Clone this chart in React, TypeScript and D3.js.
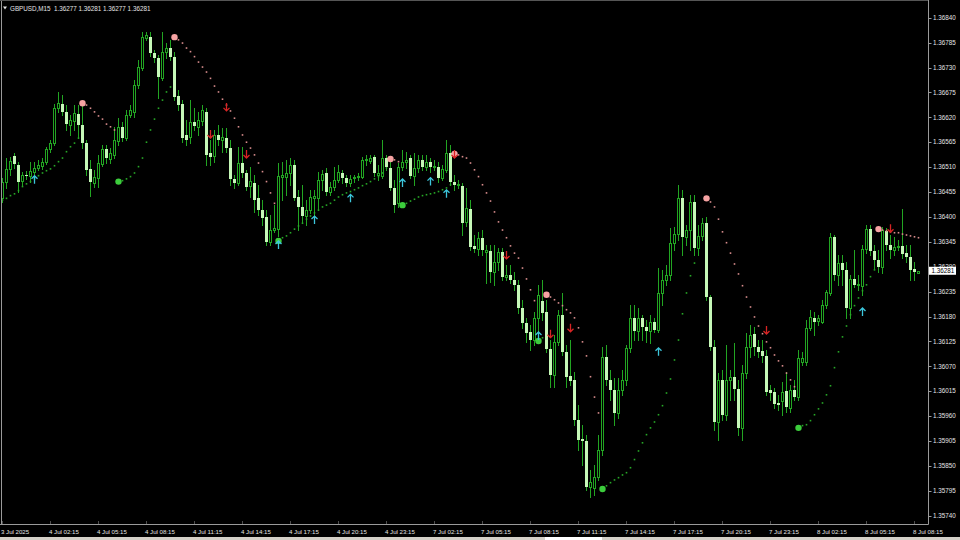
import React from "react";
import * as d3 from "d3";

const W = 960;
const H = 540;

const symbolTitle = "GBPUSD,M15";
const headerPrices = ["1.36277", "1.36281", "1.36277", "1.36281"];
const lastPrice = 1.36281;

const timeLabels = [
  "3 Jul 2025", "4 Jul 02:15", "4 Jul 05:15", "4 Jul 08:15", "4 Jul 11:15",
  "4 Jul 14:15", "4 Jul 17:15", "4 Jul 20:15", "4 Jul 23:15", "7 Jul 02:15",
  "7 Jul 05:15", "7 Jul 08:15", "7 Jul 11:15", "7 Jul 14:15", "7 Jul 17:15",
  "7 Jul 20:15", "7 Jul 23:15", "8 Jul 02:15", "8 Jul 05:15", "8 Jul 08:15",
];
const barsPerLabel = 12;

const priceTicks = [
  1.3684, 1.36785, 1.3673, 1.36675, 1.3662, 1.36565, 1.3651, 1.36455, 1.364,
  1.36345, 1.3629, 1.36235, 1.3618, 1.36125, 1.3607, 1.36015, 1.3596, 1.35905,
  1.3585, 1.35795, 1.3574,
];

const openP = [
  1.36441,1.36478,1.36506,1.36535,1.36515,1.36480,1.36493,1.36491,1.36500,1.36508,
  1.36513,1.36522,1.36550,1.36563,1.36640,1.36649,1.36632,1.36603,1.36612,1.36627,
  1.36603,1.36563,1.36506,1.36475,1.36486,1.36517,1.36550,1.36528,1.36537,1.36568,
  1.36599,1.36574,1.36625,1.36632,1.36691,1.36729,1.36795,1.36797,1.36762,1.36751,
  1.36706,1.36765,1.36773,1.36754,1.36667,1.36649,1.36581,1.36577,1.36610,1.36599,
  1.36612,1.36632,1.36541,1.36535,1.36581,1.36570,1.36574,1.36552,1.36484,1.36475,
  1.36519,1.36497,1.36469,1.36475,1.36441,1.36415,1.36400,1.36345,1.36371,1.36373,
  1.36489,1.36489,1.36497,1.36515,1.36444,1.36422,1.36402,1.36415,1.36441,1.36441,
  1.36482,1.36497,1.36456,1.36467,1.36482,1.36497,1.36486,1.36475,1.36486,1.36489,
  1.36489,1.36526,1.36524,1.36533,1.36493,1.36491,1.36530,1.36508,1.36464,1.36430,
  1.36511,1.36522,1.36530,1.36491,1.36508,1.36526,1.36511,1.36522,1.36511,1.36511,
  1.36486,1.36504,1.36541,1.36478,1.36471,1.36469,1.36389,1.36417,1.36336,1.36329,
  1.36354,1.36323,1.36325,1.36279,1.36301,1.36323,1.36268,1.36272,1.36261,1.36250,
  1.36199,1.36166,1.36146,1.36128,1.36177,1.36215,1.36190,1.36108,1.36051,1.36124,
  1.36184,1.36102,1.36049,1.36040,1.35952,1.35910,1.35904,1.35804,1.35802,1.35826,
  1.35886,1.36091,1.36040,1.36018,1.35967,1.36018,1.36040,1.36111,1.36177,1.36148,
  1.36177,1.36157,1.36148,1.36168,1.36150,1.36232,1.36261,1.36272,1.36343,1.36362,
  1.36441,1.36356,1.36371,1.36433,1.36332,1.36358,1.36386,1.36223,1.36113,1.35947,
  1.36040,1.35963,1.36040,1.36047,1.36020,1.35934,1.36055,1.36113,1.36141,1.36113,
  1.36104,1.36093,1.36018,1.36013,1.35989,1.35994,1.36016,1.35978,1.36018,1.36002,
  1.36080,1.36080,1.36155,1.36177,1.36170,1.36168,1.36206,1.36232,1.36356,1.36272,
  1.36298,1.36283,1.36199,1.36263,1.36250,1.36248,1.36329,1.36373,1.36325,1.36305,
  1.36290,1.36369,1.36338,1.36327,1.36334,1.36336,1.36320,1.36312,1.36285,1.36277,
];

const highP = [
  1.36486,1.36530,1.36533,1.36541,1.36522,1.36500,1.36502,1.36522,1.36522,1.36526,
  1.36530,1.36555,1.36570,1.36649,1.36676,1.36669,1.36647,1.36625,1.36647,1.36647,
  1.36645,1.36570,1.36526,1.36504,1.36537,1.36559,1.36559,1.36552,1.36599,1.36618,
  1.36610,1.36636,1.36647,1.36702,1.36747,1.36808,1.36808,1.36808,1.36769,1.36758,
  1.36808,1.36784,1.36791,1.36765,1.36680,1.36658,1.36614,1.36658,1.36640,1.36632,
  1.36647,1.36640,1.36570,1.36592,1.36603,1.36596,1.36596,1.36570,1.36493,1.36555,
  1.36555,1.36504,1.36511,1.36493,1.36471,1.36437,1.36415,1.36404,1.36426,1.36519,
  1.36522,1.36526,1.36530,1.36526,1.36460,1.36471,1.36437,1.36460,1.36460,1.36500,
  1.36504,1.36508,1.36478,1.36511,1.36515,1.36504,1.36493,1.36493,1.36493,1.36497,
  1.36533,1.36537,1.36537,1.36537,1.36515,1.36570,1.36537,1.36526,1.36482,1.36519,
  1.36548,1.36544,1.36537,1.36541,1.36537,1.36537,1.36537,1.36530,1.36526,1.36522,
  1.36515,1.36570,1.36559,1.36493,1.36482,1.36475,1.36464,1.36437,1.36360,1.36367,
  1.36371,1.36338,1.36338,1.36338,1.36332,1.36332,1.36294,1.36294,1.36279,1.36261,
  1.36217,1.36177,1.36161,1.36190,1.36250,1.36261,1.36217,1.36128,1.36139,1.36195,
  1.36232,1.36117,1.36128,1.36058,1.35985,1.35941,1.35919,1.35841,1.35853,1.35919,
  1.36113,1.36117,1.36062,1.36044,1.36044,1.36062,1.36117,1.36206,1.36206,1.36199,
  1.36184,1.36173,1.36184,1.36177,1.36287,1.36283,1.36294,1.36375,1.36378,1.36471,
  1.36460,1.36382,1.36449,1.36449,1.36382,1.36397,1.36400,1.36228,1.36128,1.36055,
  1.36062,1.36117,1.36062,1.36122,1.36040,1.36073,1.36144,1.36161,1.36157,1.36128,
  1.36128,1.36106,1.36029,1.36022,1.36007,1.36036,1.36058,1.36029,1.36040,1.36106,
  1.36102,1.36173,1.36195,1.36190,1.36184,1.36217,1.36239,1.36365,1.36360,1.36316,
  1.36316,1.36301,1.36272,1.36327,1.36272,1.36338,1.36382,1.36382,1.36338,1.36327,
  1.36378,1.36375,1.36360,1.36356,1.36349,1.36418,1.36338,1.36338,1.36301,1.36281,
];

const lowP = [
  1.36433,1.36464,1.36493,1.36508,1.36456,1.36471,1.36484,1.36478,1.36495,1.36504,
  1.36506,1.36517,1.36544,1.36559,1.36632,1.36625,1.36592,1.36581,1.36592,1.36574,
  1.36552,1.36493,1.36447,1.36467,1.36467,1.36513,1.36519,1.36519,1.36530,1.36559,
  1.36568,1.36570,1.36621,1.36621,1.36684,1.36724,1.36791,1.36756,1.36742,1.36662,
  1.36702,1.36751,1.36747,1.36658,1.36636,1.36565,1.36559,1.36563,1.36592,1.36581,
  1.36603,1.36515,1.36515,1.36522,1.36559,1.36544,1.36544,1.36471,1.36464,1.36471,
  1.36489,1.36460,1.36444,1.36411,1.36404,1.36382,1.36338,1.36338,1.36367,1.36358,
  1.36437,1.36449,1.36471,1.36437,1.36371,1.36389,1.36382,1.36409,1.36404,1.36415,
  1.36460,1.36449,1.36449,1.36460,1.36478,1.36475,1.36469,1.36469,1.36478,1.36482,
  1.36486,1.36515,1.36519,1.36491,1.36482,1.36486,1.36504,1.36460,1.36411,1.36422,
  1.36504,1.36508,1.36486,1.36471,1.36500,1.36504,1.36504,1.36500,1.36504,1.36478,
  1.36482,1.36500,1.36471,1.36460,1.36464,1.36360,1.36380,1.36327,1.36323,1.36316,
  1.36316,1.36254,1.36257,1.36250,1.36283,1.36261,1.36261,1.36254,1.36239,1.36188,
  1.36155,1.36124,1.36106,1.36117,1.36128,1.36173,1.36102,1.36025,1.36025,1.36117,
  1.36095,1.36025,1.36029,1.35941,1.35886,1.35853,1.35797,1.35782,1.35786,1.35819,
  1.35875,1.36029,1.35996,1.35941,1.35956,1.36007,1.36029,1.36102,1.36128,1.36128,
  1.36128,1.36124,1.36122,1.36146,1.36146,1.36206,1.36250,1.36261,1.36327,1.36349,
  1.36316,1.36338,1.36327,1.36316,1.36316,1.36349,1.36217,1.36106,1.35930,1.35908,
  1.35952,1.35952,1.35996,1.35996,1.35919,1.35908,1.36044,1.36091,1.36095,1.36091,
  1.36080,1.36007,1.35996,1.35978,1.35974,1.35963,1.35969,1.35969,1.35996,1.35996,
  1.36073,1.36073,1.36150,1.36139,1.36161,1.36166,1.36199,1.36228,1.36261,1.36250,
  1.36250,1.36177,1.36177,1.36245,1.36239,1.36228,1.36320,1.36316,1.36287,1.36279,
  1.36276,1.36327,1.36309,1.36316,1.36327,1.36309,1.36301,1.36261,1.36261,1.36277,
];

const closeP = [
  1.36478,1.36506,1.36524,1.36517,1.36478,1.36493,1.36491,1.36502,1.36508,1.36515,
  1.36522,1.36550,1.36563,1.36640,1.36651,1.36632,1.36605,1.36614,1.36630,1.36603,
  1.36563,1.36504,1.36478,1.36489,1.36519,1.36550,1.36530,1.36541,1.36570,1.36599,
  1.36574,1.36625,1.36636,1.36691,1.36731,1.36797,1.36802,1.36762,1.36751,1.36709,
  1.36765,1.36773,1.36754,1.36665,1.36647,1.36574,1.36570,1.36610,1.36601,1.36614,
  1.36636,1.36537,1.36533,1.36581,1.36570,1.36577,1.36552,1.36484,1.36475,1.36519,
  1.36497,1.36467,1.36480,1.36437,1.36415,1.36397,1.36345,1.36371,1.36375,1.36491,
  1.36493,1.36497,1.36515,1.36441,1.36422,1.36402,1.36415,1.36444,1.36447,1.36482,
  1.36495,1.36456,1.36467,1.36482,1.36500,1.36486,1.36475,1.36484,1.36489,1.36491,
  1.36526,1.36528,1.36530,1.36497,1.36497,1.36530,1.36511,1.36464,1.36426,1.36511,
  1.36522,1.36526,1.36491,1.36508,1.36526,1.36511,1.36522,1.36511,1.36513,1.36486,
  1.36506,1.36541,1.36478,1.36471,1.36473,1.36386,1.36420,1.36334,1.36329,1.36354,
  1.36327,1.36327,1.36279,1.36301,1.36323,1.36268,1.36272,1.36261,1.36250,1.36199,
  1.36166,1.36144,1.36128,1.36177,1.36228,1.36188,1.36108,1.36051,1.36124,1.36184,
  1.36102,1.36047,1.36038,1.35952,1.35908,1.35904,1.35804,1.35815,1.35826,1.35886,
  1.36091,1.36040,1.36018,1.35967,1.36018,1.36040,1.36111,1.36177,1.36148,1.36177,
  1.36157,1.36148,1.36168,1.36150,1.36232,1.36261,1.36272,1.36343,1.36362,1.36441,
  1.36356,1.36371,1.36433,1.36332,1.36358,1.36386,1.36223,1.36113,1.35947,1.36040,
  1.35963,1.36040,1.36047,1.36020,1.35934,1.36055,1.36113,1.36139,1.36113,1.36102,
  1.36093,1.36013,1.36011,1.35987,1.35985,1.36013,1.35980,1.36018,1.36002,1.36089,
  1.36089,1.36155,1.36179,1.36168,1.36177,1.36206,1.36234,1.36356,1.36272,1.36298,
  1.36283,1.36199,1.36263,1.36250,1.36252,1.36329,1.36373,1.36325,1.36305,1.36290,
  1.36371,1.36338,1.36327,1.36334,1.36336,1.36318,1.36312,1.36283,1.36279,1.36281,
];

// trailing-stop indicator: support (green) and resistance (pink) segments
const supportStarts = [0, 29, 69, 100, 134, 150, 199];
const supportValues = [
  [1.36437,1.36441,1.36447,1.36451,1.36458,1.36467,1.36473,1.36478,1.36484,1.36491,1.36497,1.36502,1.36506,1.36513,1.36522,1.36530,1.36544,1.36555,1.36563,1.36574],
  [1.36478,1.36480,1.36484,1.36489,1.36497,1.36511,1.36530,1.36565,1.36592,1.36616,1.36640,1.36658,1.36676,1.36687],
  [1.36347,1.36354,1.36358,1.36365,1.36373,1.36380,1.36386,1.36395,1.36402,1.36409,1.36415,1.36422,1.36426,1.36430,1.36437,1.36444,1.36449,1.36453,1.36456,1.36460,1.36464,1.36469,1.36473,1.36478,1.36484,1.36489,1.36497,1.36508],
  [1.36426,1.36430,1.36435,1.36439,1.36444,1.36447,1.36449,1.36451,1.36453,1.36456,1.36460,1.36464,1.36471],
  [1.36126,1.36133],
  [1.35799,1.35806,1.35813,1.35819,1.35824,1.35830,1.35835,1.35846,1.35864,1.35883,1.35901,1.35919,1.35934,1.35947,1.35963,1.35983,1.36011,1.36042,1.36084,1.36128,1.36186,1.36232,1.36270,1.36298],
  [1.35934,1.35939,1.35941,1.35950,1.35963,1.35976,1.35989,1.36007,1.36027,1.36067,1.36102,1.36135,1.36159,1.36184,1.36204,1.36221,1.36237,1.36250,1.36268,1.36283],
];
const resistStarts = [20, 43, 97, 113, 136, 176, 219];
const resistValues = [
  [1.36651,1.36647,1.36640,1.36632,1.36623,1.36616,1.36605,1.36599,1.36592],
  [1.36797,1.36791,1.36784,1.36773,1.36765,1.36754,1.36742,1.36731,1.36720,1.36706,1.36689,1.36676,1.36660,1.36647,1.36634,1.36618,1.36599,1.36581,1.36565,1.36552,1.36537,1.36519,1.36500,1.36478,1.36453,1.36430],
  [1.36528,1.36526,1.36522],
  [1.36539,1.36537,1.36533,1.36530,1.36519,1.36504,1.36489,1.36471,1.36453,1.36435,1.36411,1.36389,1.36371,1.36354,1.36336,1.36320,1.36309,1.36287,1.36263,1.36239,1.36215],
  [1.36228,1.36223,1.36217,1.36210,1.36204,1.36195,1.36188,1.36177,1.36155,1.36124,1.36093,1.36047,1.36002,1.35967],
  [1.36441,1.36433,1.36422,1.36395,1.36367,1.36343,1.36320,1.36296,1.36274,1.36248,1.36223,1.36201,1.36179,1.36159,1.36142,1.36124,1.36111,1.36095,1.36082,1.36071,1.36055,1.36040,1.36025],
  [1.36373,1.36371,1.36369,1.36367,1.36365,1.36365,1.36362,1.36360,1.36358,1.36356,1.36354],
];

const upArrowBars = [8, 69, 78, 87, 100, 107, 111, 134, 164, 215];
const upArrowPrices = [1.36482, 1.36338, 1.36393, 1.36441, 1.36475, 1.36478, 1.36451, 1.36137, 1.36102, 1.3619];
const downArrowBars = [52, 56, 61, 113, 126, 137, 142, 191, 222];
const downArrowPrices = [1.36583, 1.36643, 1.36539, 1.36539, 1.36316, 1.36142, 1.36155, 1.3615, 1.36375];

const COL_BULL = "#22a522";
const COL_BEAR_FILL = "#c6f8b8";
const COL_TEXT = "#e4e4e4";
const COL_FRAME = "#9a9a9a";
const FONT = "'Liberation Sans', Arial, sans-serif";

export default function App() {
  const n = openP.length;
  const x = d3.scaleLinear().domain([0, n - 1]).range([2.5, 918.5]);
  const y = d3.scaleLinear().domain([1.3574, 1.3684]).range([515.7, 17.7]);
  const fmt = d3.format(".5f");
  const plotRight = 928.5;
  const axisY = 524.5;

  const candles = d3.range(n).map((i) => {
    const cx = x(i);
    const o = openP[i], c = closeP[i];
    const bull = c >= o;
    const yTop = Math.round(y(Math.max(o, c)));
    const yBot = Math.round(y(Math.min(o, c)));
    return (
      <g key={"c" + i}>
        <line x1={cx} x2={cx} y1={Math.round(y(highP[i]))} y2={Math.round(y(lowP[i])) + 1} stroke={COL_BULL} strokeWidth={1} />
        {bull ? (
          <rect x={cx - 1} y={yTop + 0.5} width={2} height={Math.max(yBot - yTop, 0)} fill="#000" stroke={COL_BULL} strokeWidth={1} />
        ) : (
          <rect x={cx - 1.5} y={yTop} width={3} height={Math.max(yBot - yTop, 1)} fill={COL_BEAR_FILL} />
        )}
      </g>
    );
  });

  const trail = (starts: number[], vals: number[][], small: string, big: string, key: string) =>
    starts.map((s, k) => (
      <g key={key + k}>
        {vals[k].map((v, j) =>
          j === 0 && s > 0 ? (
            <circle key={j} cx={x(s + j)} cy={y(v)} r={3.2} fill={big} />
          ) : (
            <rect key={j} x={x(s + j) - 0.8} y={y(v) - 0.8} width={1.6} height={1.6} fill={small} />
          )
        )}
      </g>
    ));

  const upArrow = (cx: number, cy: number, k: number) => (
    <path key={"u" + k} d={`M${cx},${cy + 4}V${cy - 4}M${cx - 3},${cy - 1}L${cx},${cy - 4}L${cx + 3},${cy - 1}`} fill="none" stroke="#3cc6dc" strokeWidth={1.3} />
  );
  const downArrow = (cx: number, cy: number, k: number) => (
    <path key={"d" + k} d={`M${cx},${cy - 4}V${cy + 4}M${cx - 3},${cy + 1}L${cx},${cy + 4}L${cx + 3},${cy + 1}`} fill="none" stroke="#d82424" strokeWidth={1.3} />
  );

  return (
    <svg width={W} height={H} style={{ position: "fixed", left: 0, top: 0, background: "#000" }}>
      <rect x={0} y={0} width={W} height={H} fill="#000" />
      <defs>
        <clipPath id="plotclip">
          <rect x={2} y={1} width={926} height={523} />
        </clipPath>
      </defs>
      <g clipPath="url(#plotclip)">
        {candles}
        {trail(supportStarts, supportValues, "#27a827", "#3ccc3c", "s")}
        {trail(resistStarts, resistValues, "#d88c8c", "#f7a3a3", "r")}
        {upArrowBars.map((b, k) => upArrow(x(b), y(upArrowPrices[k]), k))}
        {downArrowBars.map((b, k) => downArrow(x(b), y(downArrowPrices[k]), k))}
      </g>

      {/* frame */}
      <line x1={1.5} x2={1.5} y1={0} y2={axisY} stroke={COL_FRAME} />
      <line x1={0} x2={plotRight} y1={0.5} y2={0.5} stroke="#555" />
      <line x1={plotRight} x2={plotRight} y1={0} y2={axisY} stroke={COL_FRAME} />
      <line x1={0} x2={plotRight} y1={axisY} y2={axisY} stroke={COL_FRAME} />

      {/* header */}
      <path d="M3,6.5L7,6.5L5,9.5Z" fill={COL_TEXT} />
      <text x={10} y={10.5} fontFamily={FONT} fontSize={6.3} fill={COL_TEXT} style={{ whiteSpace: "pre" }}>
        {symbolTitle + "  " + headerPrices.join(" ")}
      </text>

      {/* price axis */}
      {priceTicks.map((p, k) => (
        <g key={"p" + k}>
          <line x1={plotRight} x2={plotRight + 3} y1={Math.round(y(p)) + 0.5} y2={Math.round(y(p)) + 0.5} stroke={COL_FRAME} />
          <text x={933} y={y(p) + 2.2} fontFamily={FONT} fontSize={6.3} fill={COL_TEXT}>
            {fmt(p)}
          </text>
        </g>
      ))}
      <rect x={929} y={y(lastPrice) - 4} width={27} height={8} fill="#fff" />
      <text x={931.5} y={y(lastPrice) + 2.2} fontFamily={FONT} fontSize={6.3} fill="#000">
        {fmt(lastPrice)}
      </text>

      {/* time axis */}
      {timeLabels.map((t, k) => {
        const tx = x(k * barsPerLabel);
        return (
          <g key={"t" + k}>
            <line x1={tx} x2={tx} y1={axisY - 3} y2={axisY} stroke={COL_FRAME} strokeDasharray="1,1" />
            <text x={tx - 1.5} y={534} fontFamily={FONT} fontSize={6.1} fill={COL_TEXT}>
              {t}
            </text>
          </g>
        );
      })}

      {/* bottom tab bar */}
      <rect x={0} y={537} width={W} height={3} fill="#d4d0c8" />
      <rect x={545} y={537} width={57} height={3} fill="#fff" />
    </svg>
  );
}
